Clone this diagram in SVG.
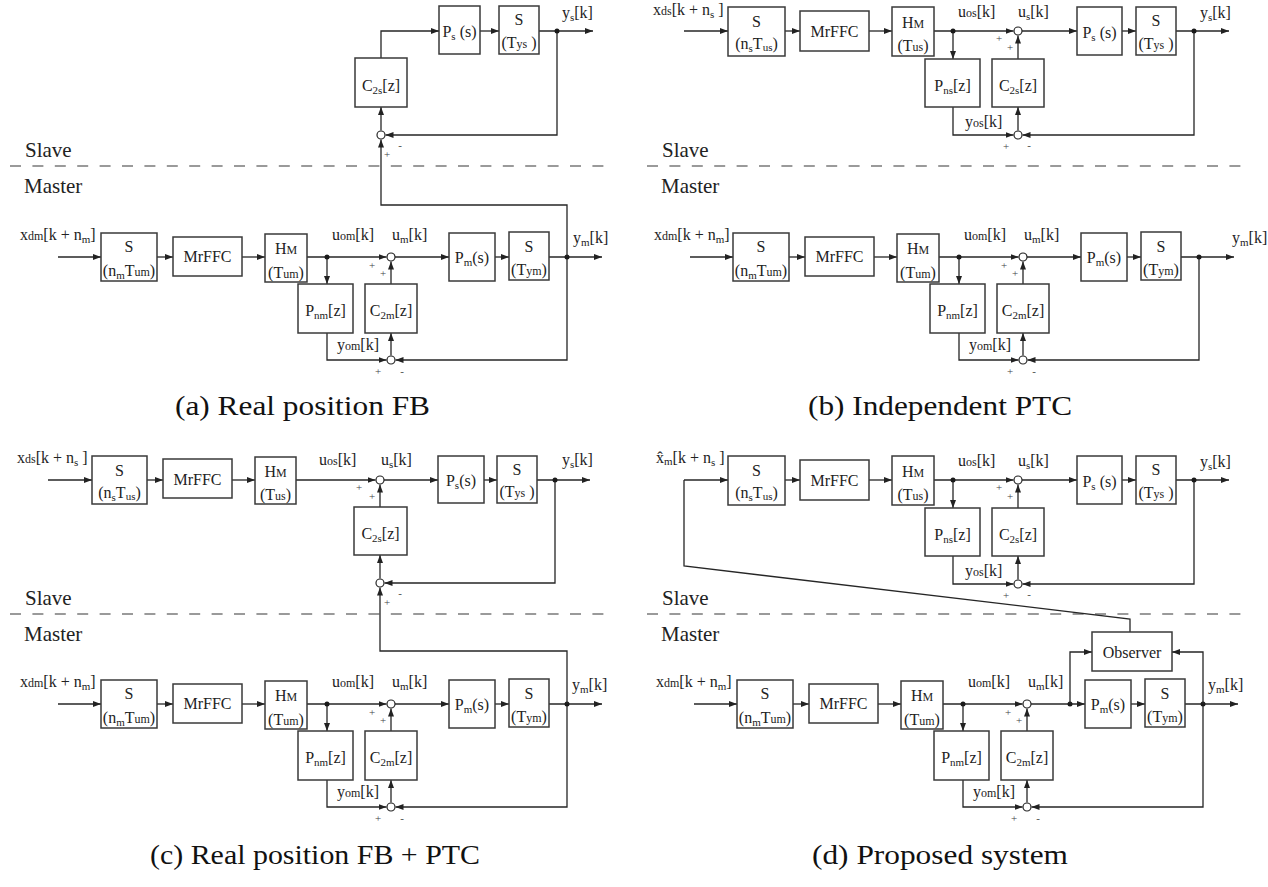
<svg xmlns="http://www.w3.org/2000/svg" width="1268" height="887" viewBox="0 0 1268 887">
<style>
  .box { fill: #fff; stroke: #3a3a3a; stroke-width: 1.5; }
  .w { fill: none; stroke: #262626; stroke-width: 1.3; }
  .a { marker-end: url(#ah); }
  .sum { fill: #fff; stroke: #262626; stroke-width: 1.2; }
  .dot { fill: #1a1a1a; }
  .dash { stroke: #7a7a7a; stroke-width: 1.5; stroke-dasharray: 11 11.4; }
  text { font-family: "Liberation Serif", "DejaVu Serif", serif; fill: #222; }
  .t { font-size: 16px; }
  .c { text-anchor: middle; }
  .sm { font-size: 12px; }
  .sb { font-size: 11px; }
  .pm { font-size: 11px; fill: #444; text-anchor: middle; }
  .zone { font-size: 21px; }
  .cap { font-size: 27px; fill: #111; }
</style>
<defs>
  <marker id="ah" viewBox="0 0 8 6" refX="8" refY="3" markerWidth="8" markerHeight="6" markerUnits="userSpaceOnUse" orient="auto">
    <path d="M0,0 L8,3 L0,6 Z" fill="#222"/>
  </marker>
</defs>
<rect width="1268" height="887" fill="#fff"/>

<!-- ===== zone separators ===== -->
<g id="separators">
  <line class="dash" x1="10" y1="166" x2="607" y2="166"/>
  <line class="dash" x1="647" y1="166" x2="1243" y2="166"/>
  <line class="dash" x1="10" y1="614" x2="607" y2="614"/>
  <line class="dash" x1="647" y1="614" x2="1243" y2="614"/>
  <text class="zone" x="25" y="157">Slave</text>
  <text class="zone" x="24" y="193">Master</text>
  <text class="zone" x="662" y="157">Slave</text>
  <text class="zone" x="661" y="193">Master</text>
  <text class="zone" x="25" y="605">Slave</text>
  <text class="zone" x="24" y="641">Master</text>
  <text class="zone" x="662" y="605">Slave</text>
  <text class="zone" x="661" y="641">Master</text>
</g>

<!-- ===== captions ===== -->
<g id="captions">
  <text class="cap" x="175" y="415" textLength="255" lengthAdjust="spacingAndGlyphs">(a) Real position FB</text>
  <text class="cap" x="808" y="415" textLength="264" lengthAdjust="spacingAndGlyphs">(b) Independent PTC</text>
  <text class="cap" x="150" y="864" textLength="330" lengthAdjust="spacingAndGlyphs">(c) Real position FB + PTC</text>
  <text class="cap" x="812" y="864" textLength="256" lengthAdjust="spacingAndGlyphs">(d) Proposed system</text>
</g>

<!-- ===== master loop, panel (a) ===== -->
<g id="masterA">
  <g id="masterA-wires">
    <path class="w a" d="M58 257H101"/>
    <path class="w a" d="M157 257H173"/>
    <path class="w a" d="M242 257H265"/>
    <path class="w a" d="M307 257H386.5"/>
    <path class="w a" d="M327 257V284"/>
    <path class="w a" d="M391 284V261.5"/>
    <path class="w a" d="M395 257H449"/>
    <path class="w a" d="M495 257H509"/>
    <path class="w a" d="M549 257H602"/>
    <path class="w a" d="M567 257V360H395.5"/>
    <path class="w a" d="M327 333V360H386.5"/>
    <path class="w a" d="M391 355.5V333"/>
    <circle class="dot" cx="327" cy="257" r="2.5"/>
    <circle class="dot" cx="567" cy="257" r="2.5"/>
  </g>
  <g id="masterA-labels">
    <text class="t" x="20" y="240">x<tspan class="sm">dm</tspan>[k + n<tspan class="sb" dy="3">m</tspan><tspan dy="-3">]</tspan></text>
    <text class="t" x="332" y="240">u<tspan class="sm">om</tspan>[k]</text>
    <text class="t" x="392" y="240">u<tspan class="sb" dy="3">m</tspan><tspan dy="-3">[k]</tspan></text>
    <text class="t" x="337" y="350">y<tspan class="sm">om</tspan>[k]</text>
    <text class="t" x="573" y="243">y<tspan class="sb" dy="3">m</tspan><tspan dy="-3">[k]</tspan></text>
  </g>
  <g id="masterA-S"><rect class="box" x="101" y="233" width="56" height="48"/><text class="t c" x="129" y="252">S</text><text class="t c" x="129" y="276">(n<tspan class="sb" dy="3">m</tspan><tspan dy="-3">T</tspan><tspan class="sm">um</tspan>)</text></g>
  <g id="masterA-MrFFC"><rect class="box" x="173" y="237" width="69" height="39"/><text class="t c" x="207.5" y="262">MrFFC</text></g>
  <g id="masterA-HM"><rect class="box" x="265" y="234" width="42" height="48"/><text class="t c" x="286" y="254">H<tspan class="sm">M</tspan></text><text class="t c" x="286" y="278">(T<tspan class="sm">um</tspan>)</text></g>
  <g id="masterA-Pn"><rect class="box" x="298" y="284" width="55" height="49"/><text class="t c" x="325.5" y="316">P<tspan class="sb" dy="3">nm</tspan><tspan dy="-3">[z]</tspan></text></g>
  <g id="masterA-C2"><rect class="box" x="365" y="284" width="52" height="49"/><text class="t c" x="391" y="316">C<tspan class="sb" dy="3">2m</tspan><tspan dy="-3">[z]</tspan></text></g>
  <g id="masterA-P"><rect class="box" x="449" y="233" width="46" height="48"/><text class="t c" x="472" y="263">P<tspan class="sb" dy="3">m</tspan><tspan dy="-3">(s)</tspan></text></g>
  <g id="masterA-Sy"><rect class="box" x="509" y="232" width="40" height="48"/><text class="t c" x="529" y="252">S</text><text class="t c" x="529" y="275">(T<tspan class="sm">ym</tspan>)</text></g>
  <g id="masterA-sumU"><circle class="sum" cx="391" cy="257" r="4"/><text class="pm" x="372" y="269">+</text><text class="pm" x="383" y="277">+</text></g>
  <g id="masterA-sumY"><circle class="sum" cx="391" cy="360" r="4"/><text class="pm" x="378" y="375">+</text><text class="pm" x="402" y="375">-</text></g>
</g>

<!-- ===== master loop, panel (b) ===== -->
<g id="masterB" transform="translate(632,0)">
  <g id="masterB-wires">
    <path class="w a" d="M58 257H101"/>
    <path class="w a" d="M157 257H173"/>
    <path class="w a" d="M242 257H265"/>
    <path class="w a" d="M307 257H386.5"/>
    <path class="w a" d="M327 257V284"/>
    <path class="w a" d="M391 284V261.5"/>
    <path class="w a" d="M395 257H449"/>
    <path class="w a" d="M495 257H509"/>
    <path class="w a" d="M549 257H602"/>
    <path class="w a" d="M567 257V360H395.5"/>
    <path class="w a" d="M327 333V360H386.5"/>
    <path class="w a" d="M391 355.5V333"/>
    <circle class="dot" cx="327" cy="257" r="2.5"/>
    <circle class="dot" cx="567" cy="257" r="2.5"/>
  </g>
  <g id="masterB-labels">
    <text class="t" x="22" y="240">x<tspan class="sm">dm</tspan>[k + n<tspan class="sb" dy="3">m</tspan><tspan dy="-3">]</tspan></text>
    <text class="t" x="332" y="240">u<tspan class="sm">om</tspan>[k]</text>
    <text class="t" x="392" y="240">u<tspan class="sb" dy="3">m</tspan><tspan dy="-3">[k]</tspan></text>
    <text class="t" x="337" y="350">y<tspan class="sm">om</tspan>[k]</text>
    <text class="t" x="600" y="243">y<tspan class="sb" dy="3">m</tspan><tspan dy="-3">[k]</tspan></text>
  </g>
  <g id="masterB-S"><rect class="box" x="101" y="233" width="56" height="48"/><text class="t c" x="129" y="252">S</text><text class="t c" x="129" y="276">(n<tspan class="sb" dy="3">m</tspan><tspan dy="-3">T</tspan><tspan class="sm">um</tspan>)</text></g>
  <g id="masterB-MrFFC"><rect class="box" x="173" y="237" width="69" height="39"/><text class="t c" x="207.5" y="262">MrFFC</text></g>
  <g id="masterB-HM"><rect class="box" x="265" y="234" width="42" height="48"/><text class="t c" x="286" y="254">H<tspan class="sm">M</tspan></text><text class="t c" x="286" y="278">(T<tspan class="sm">um</tspan>)</text></g>
  <g id="masterB-Pn"><rect class="box" x="298" y="284" width="55" height="49"/><text class="t c" x="325.5" y="316">P<tspan class="sb" dy="3">nm</tspan><tspan dy="-3">[z]</tspan></text></g>
  <g id="masterB-C2"><rect class="box" x="365" y="284" width="52" height="49"/><text class="t c" x="391" y="316">C<tspan class="sb" dy="3">2m</tspan><tspan dy="-3">[z]</tspan></text></g>
  <g id="masterB-P"><rect class="box" x="449" y="233" width="46" height="48"/><text class="t c" x="472" y="263">P<tspan class="sb" dy="3">m</tspan><tspan dy="-3">(s)</tspan></text></g>
  <g id="masterB-Sy"><rect class="box" x="509" y="232" width="40" height="48"/><text class="t c" x="529" y="252">S</text><text class="t c" x="529" y="275">(T<tspan class="sm">ym</tspan>)</text></g>
  <g id="masterB-sumU"><circle class="sum" cx="391" cy="257" r="4"/><text class="pm" x="372" y="269">+</text><text class="pm" x="383" y="277">+</text></g>
  <g id="masterB-sumY"><circle class="sum" cx="391" cy="360" r="4"/><text class="pm" x="378" y="375">+</text><text class="pm" x="402" y="375">-</text></g>
</g>

<!-- ===== master loop, panel (c) ===== -->
<g id="masterC" transform="translate(0,447)">
  <g id="masterC-wires">
    <path class="w a" d="M58 257H101"/>
    <path class="w a" d="M157 257H173"/>
    <path class="w a" d="M242 257H265"/>
    <path class="w a" d="M307 257H386.5"/>
    <path class="w a" d="M327 257V284"/>
    <path class="w a" d="M391 284V261.5"/>
    <path class="w a" d="M395 257H449"/>
    <path class="w a" d="M495 257H509"/>
    <path class="w a" d="M549 257H602"/>
    <path class="w a" d="M567 257V360H395.5"/>
    <path class="w a" d="M327 333V360H386.5"/>
    <path class="w a" d="M391 355.5V333"/>
    <circle class="dot" cx="327" cy="257" r="2.5"/>
    <circle class="dot" cx="567" cy="257" r="2.5"/>
  </g>
  <g id="masterC-labels">
    <text class="t" x="20" y="240">x<tspan class="sm">dm</tspan>[k + n<tspan class="sb" dy="3">m</tspan><tspan dy="-3">]</tspan></text>
    <text class="t" x="332" y="240">u<tspan class="sm">om</tspan>[k]</text>
    <text class="t" x="392" y="240">u<tspan class="sb" dy="3">m</tspan><tspan dy="-3">[k]</tspan></text>
    <text class="t" x="337" y="350">y<tspan class="sm">om</tspan>[k]</text>
    <text class="t" x="572" y="243">y<tspan class="sb" dy="3">m</tspan><tspan dy="-3">[k]</tspan></text>
  </g>
  <g id="masterC-S"><rect class="box" x="101" y="233" width="56" height="48"/><text class="t c" x="129" y="252">S</text><text class="t c" x="129" y="276">(n<tspan class="sb" dy="3">m</tspan><tspan dy="-3">T</tspan><tspan class="sm">um</tspan>)</text></g>
  <g id="masterC-MrFFC"><rect class="box" x="173" y="237" width="69" height="39"/><text class="t c" x="207.5" y="262">MrFFC</text></g>
  <g id="masterC-HM"><rect class="box" x="265" y="234" width="42" height="48"/><text class="t c" x="286" y="254">H<tspan class="sm">M</tspan></text><text class="t c" x="286" y="278">(T<tspan class="sm">um</tspan>)</text></g>
  <g id="masterC-Pn"><rect class="box" x="298" y="284" width="55" height="49"/><text class="t c" x="325.5" y="316">P<tspan class="sb" dy="3">nm</tspan><tspan dy="-3">[z]</tspan></text></g>
  <g id="masterC-C2"><rect class="box" x="365" y="284" width="52" height="49"/><text class="t c" x="391" y="316">C<tspan class="sb" dy="3">2m</tspan><tspan dy="-3">[z]</tspan></text></g>
  <g id="masterC-P"><rect class="box" x="449" y="233" width="46" height="48"/><text class="t c" x="472" y="263">P<tspan class="sb" dy="3">m</tspan><tspan dy="-3">(s)</tspan></text></g>
  <g id="masterC-Sy"><rect class="box" x="509" y="232" width="40" height="48"/><text class="t c" x="529" y="252">S</text><text class="t c" x="529" y="275">(T<tspan class="sm">ym</tspan>)</text></g>
  <g id="masterC-sumU"><circle class="sum" cx="391" cy="257" r="4"/><text class="pm" x="372" y="269">+</text><text class="pm" x="383" y="277">+</text></g>
  <g id="masterC-sumY"><circle class="sum" cx="391" cy="360" r="4"/><text class="pm" x="378" y="375">+</text><text class="pm" x="402" y="375">-</text></g>
</g>

<!-- ===== master loop, panel (d) ===== -->
<g id="masterD" transform="translate(636,447)">
  <g id="masterD-wires">
    <path class="w a" d="M58 257H101"/>
    <path class="w a" d="M157 257H173"/>
    <path class="w a" d="M242 257H265"/>
    <path class="w a" d="M307 257H386.5"/>
    <path class="w a" d="M327 257V284"/>
    <path class="w a" d="M391 284V261.5"/>
    <path class="w a" d="M395 257H449"/>
    <path class="w a" d="M495 257H509"/>
    <path class="w a" d="M549 257H602"/>
    <path class="w a" d="M567 257V360H395.5"/>
    <path class="w a" d="M327 333V360H386.5"/>
    <path class="w a" d="M391 355.5V333"/>
    <circle class="dot" cx="327" cy="257" r="2.5"/>
    <circle class="dot" cx="567" cy="257" r="2.5"/>
    <circle class="dot" cx="434" cy="257" r="2.5"/>
  </g>
  <g id="masterD-labels">
    <text class="t" x="20" y="240">x<tspan class="sm">dm</tspan>[k + n<tspan class="sb" dy="3">m</tspan><tspan dy="-3">]</tspan></text>
    <text class="t" x="332" y="240">u<tspan class="sm">om</tspan>[k]</text>
    <text class="t" x="392" y="240">u<tspan class="sb" dy="3">m</tspan><tspan dy="-3">[k]</tspan></text>
    <text class="t" x="337" y="350">y<tspan class="sm">om</tspan>[k]</text>
    <text class="t" x="572" y="243">y<tspan class="sb" dy="3">m</tspan><tspan dy="-3">[k]</tspan></text>
  </g>
  <g id="masterD-S"><rect class="box" x="101" y="233" width="56" height="48"/><text class="t c" x="129" y="252">S</text><text class="t c" x="129" y="276">(n<tspan class="sb" dy="3">m</tspan><tspan dy="-3">T</tspan><tspan class="sm">um</tspan>)</text></g>
  <g id="masterD-MrFFC"><rect class="box" x="173" y="237" width="69" height="39"/><text class="t c" x="207.5" y="262">MrFFC</text></g>
  <g id="masterD-HM"><rect class="box" x="265" y="234" width="42" height="48"/><text class="t c" x="286" y="254">H<tspan class="sm">M</tspan></text><text class="t c" x="286" y="278">(T<tspan class="sm">um</tspan>)</text></g>
  <g id="masterD-Pn"><rect class="box" x="298" y="284" width="55" height="49"/><text class="t c" x="325.5" y="316">P<tspan class="sb" dy="3">nm</tspan><tspan dy="-3">[z]</tspan></text></g>
  <g id="masterD-C2"><rect class="box" x="365" y="284" width="52" height="49"/><text class="t c" x="391" y="316">C<tspan class="sb" dy="3">2m</tspan><tspan dy="-3">[z]</tspan></text></g>
  <g id="masterD-P"><rect class="box" x="449" y="233" width="46" height="48"/><text class="t c" x="472" y="263">P<tspan class="sb" dy="3">m</tspan><tspan dy="-3">(s)</tspan></text></g>
  <g id="masterD-Sy"><rect class="box" x="509" y="232" width="40" height="48"/><text class="t c" x="529" y="252">S</text><text class="t c" x="529" y="275">(T<tspan class="sm">ym</tspan>)</text></g>
  <g id="masterD-sumU"><circle class="sum" cx="391" cy="257" r="4"/><text class="pm" x="372" y="269">+</text><text class="pm" x="383" y="277">+</text></g>
  <g id="masterD-sumY"><circle class="sum" cx="391" cy="360" r="4"/><text class="pm" x="378" y="375">+</text><text class="pm" x="402" y="375">-</text></g>
</g>

<!-- ===== slave loop, panel (a): position feedback only ===== -->
<g id="slaveA">
  <g id="slaveA-wires">
    <path class="w a" d="M381 58V31H439"/>
    <path class="w a" d="M480 31H499"/>
    <path class="w a" d="M539 31H593"/>
    <path class="w a" d="M557 31V135H385.5"/>
    <path class="w a" d="M381 130.5V107"/>
    <path class="w a" d="M567 257V205H381V139.5"/>
    <circle class="dot" cx="557" cy="31" r="2.5"/>
  </g>
  <text class="t" x="562" y="18">y<tspan class="sb" dy="3">s</tspan><tspan dy="-3">[k]</tspan></text>
  <g id="slaveA-C2"><rect class="box" x="355" y="58" width="52" height="49"/><text class="t c" x="381" y="91">C<tspan class="sb" dy="3">2s</tspan><tspan dy="-3">[z]</tspan></text></g>
  <g id="slaveA-P"><rect class="box" x="439" y="6" width="41" height="48"/><text class="t c" x="459.5" y="37">P<tspan class="sb" dy="3">s</tspan><tspan dy="-3"> (s)</tspan></text></g>
  <g id="slaveA-Sy"><rect class="box" x="499" y="6" width="40" height="48"/><text class="t c" x="519" y="25">S</text><text class="t c" x="519" y="48">(T<tspan class="sm">ys</tspan> )</text></g>
  <g id="slaveA-sum"><circle class="sum" cx="381" cy="135" r="4"/><text class="pm" x="400" y="149">-</text><text class="pm" x="387" y="158">+</text></g>
</g>

<!-- ===== slave loop, panel (b) ===== -->
<g id="slaveB">
  <g id="slaveB-wires">
    <path class="w a" d="M684 31H728"/>
    <path class="w a" d="M785 31H800"/>
    <path class="w a" d="M869 31H892"/>
    <path class="w a" d="M934 31H1013.5"/>
    <path class="w a" d="M953 31V59"/>
    <path class="w a" d="M1018 59V35.5"/>
    <path class="w a" d="M1022 31H1077"/>
    <path class="w a" d="M1122 31H1136"/>
    <path class="w a" d="M1176 31H1229"/>
    <path class="w a" d="M1194 31V135H1022.5"/>
    <path class="w a" d="M953 107V135H1013.5"/>
    <path class="w a" d="M1018 130.5V107"/>
    <circle class="dot" cx="953" cy="31" r="2.5"/>
    <circle class="dot" cx="1194" cy="31" r="2.5"/>
  </g>
  <g id="slaveB-labels">
    <text class="t" x="653" y="15">x<tspan class="sm">ds</tspan>[k + n<tspan class="sb" dy="3">s</tspan><tspan dy="-3"> ]</tspan></text>
    <text class="t" x="958" y="17">u<tspan class="sm">os</tspan>[k]</text>
    <text class="t" x="1018" y="17">u<tspan class="sb" dy="3">s</tspan><tspan dy="-3">[k]</tspan></text>
    <text class="t" x="1200" y="18">y<tspan class="sb" dy="3">s</tspan><tspan dy="-3">[k]</tspan></text>
    <text class="t" x="965" y="127">y<tspan class="sm">os</tspan>[k]</text>
  </g>
  <g id="slaveB-S"><rect class="box" x="728" y="7" width="57" height="49"/><text class="t c" x="756.5" y="27">S</text><text class="t c" x="756.5" y="49">(n<tspan class="sb" dy="3">s</tspan><tspan dy="-3">T</tspan><tspan class="sb" dy="2">us</tspan><tspan dy="-2">)</tspan></text></g>
  <g id="slaveB-MrFFC"><rect class="box" x="800" y="11" width="69" height="40"/><text class="t c" x="834.5" y="37">MrFFC</text></g>
  <g id="slaveB-HM"><rect class="box" x="892" y="7" width="42" height="49"/><text class="t c" x="913" y="28">H<tspan class="sm">M</tspan></text><text class="t c" x="913" y="51">(T<tspan class="sm">us</tspan>)</text></g>
  <g id="slaveB-Pn"><rect class="box" x="925" y="59" width="55" height="48"/><text class="t c" x="952.5" y="91">P<tspan class="sb" dy="3">ns</tspan><tspan dy="-3">[z]</tspan></text></g>
  <g id="slaveB-C2"><rect class="box" x="992" y="59" width="52" height="48"/><text class="t c" x="1018" y="91">C<tspan class="sb" dy="3">2s</tspan><tspan dy="-3">[z]</tspan></text></g>
  <g id="slaveB-P"><rect class="box" x="1077" y="7" width="45" height="48"/><text class="t c" x="1099.5" y="38">P<tspan class="sb" dy="3">s</tspan><tspan dy="-3"> (s)</tspan></text></g>
  <g id="slaveB-Sy"><rect class="box" x="1136" y="7" width="40" height="48"/><text class="t c" x="1156" y="26">S</text><text class="t c" x="1156" y="49">(T<tspan class="sm">ys</tspan> )</text></g>
  <g id="slaveB-sumU"><circle class="sum" cx="1018" cy="31" r="4"/><text class="pm" x="999" y="42">+</text><text class="pm" x="1010" y="51">+</text></g>
  <g id="slaveB-sumY"><circle class="sum" cx="1018" cy="135" r="4"/><text class="pm" x="1006" y="150">+</text><text class="pm" x="1029" y="149">-</text></g>
</g>

<!-- ===== slave loop, panel (c): position feedback + PTC ===== -->
<g id="slaveC">
  <g id="slaveC-wires">
    <path class="w a" d="M48 480H92"/>
    <path class="w a" d="M147 480H163"/>
    <path class="w a" d="M232 480H255"/>
    <path class="w a" d="M296 480H375.5"/>
    <path class="w a" d="M380 507V484.5"/>
    <path class="w a" d="M384 480H438"/>
    <path class="w a" d="M484 480H497"/>
    <path class="w a" d="M537 480H590"/>
    <path class="w a" d="M555 480V583H384.5"/>
    <path class="w a" d="M380 578.5V555"/>
    <path class="w a" d="M567 704V651H380V587.5"/>
    <circle class="dot" cx="555" cy="480" r="2.5"/>
  </g>
  <g id="slaveC-labels">
    <text class="t" x="17" y="463">x<tspan class="sm">ds</tspan>[k + n<tspan class="sb" dy="3">s</tspan><tspan dy="-3"> ]</tspan></text>
    <text class="t" x="319" y="465">u<tspan class="sm">os</tspan>[k]</text>
    <text class="t" x="381" y="465">u<tspan class="sb" dy="3">s</tspan><tspan dy="-3">[k]</tspan></text>
    <text class="t" x="562" y="465">y<tspan class="sb" dy="3">s</tspan><tspan dy="-3">[k]</tspan></text>
  </g>
  <g id="slaveC-S"><rect class="box" x="92" y="456" width="55" height="48"/><text class="t c" x="119.5" y="476">S</text><text class="t c" x="119.5" y="498">(n<tspan class="sb" dy="3">s</tspan><tspan dy="-3">T</tspan><tspan class="sb" dy="2">us</tspan><tspan dy="-2">)</tspan></text></g>
  <g id="slaveC-MrFFC"><rect class="box" x="163" y="459" width="69" height="39"/><text class="t c" x="197.5" y="485">MrFFC</text></g>
  <g id="slaveC-HM"><rect class="box" x="255" y="457" width="41" height="47"/><text class="t c" x="275.5" y="477">H<tspan class="sm">M</tspan></text><text class="t c" x="275.5" y="500">(T<tspan class="sm">us</tspan>)</text></g>
  <g id="slaveC-C2"><rect class="box" x="354" y="507" width="53" height="48"/><text class="t c" x="380.5" y="539">C<tspan class="sb" dy="3">2s</tspan><tspan dy="-3">[z]</tspan></text></g>
  <g id="slaveC-P"><rect class="box" x="438" y="456" width="46" height="47"/><text class="t c" x="461" y="486">P<tspan class="sb" dy="3">s</tspan><tspan dy="-3">(s)</tspan></text></g>
  <g id="slaveC-Sy"><rect class="box" x="497" y="456" width="40" height="47"/><text class="t c" x="517" y="475">S</text><text class="t c" x="517" y="497">(T<tspan class="sm">ys</tspan> )</text></g>
  <g id="slaveC-sumU"><circle class="sum" cx="380" cy="480" r="4"/><text class="pm" x="359" y="491">+</text><text class="pm" x="372" y="500">+</text></g>
  <g id="slaveC-sumY"><circle class="sum" cx="380" cy="583" r="4"/><text class="pm" x="400" y="597">-</text><text class="pm" x="387" y="606">+</text></g>
</g>

<!-- ===== slave loop, panel (d): reference from observer ===== -->
<g id="slaveD" transform="translate(0,449)">
  <g id="slaveD-wires">
    <path class="w a" d="M684 31H728"/>
    <path class="w a" d="M785 31H800"/>
    <path class="w a" d="M869 31H892"/>
    <path class="w a" d="M934 31H1013.5"/>
    <path class="w a" d="M953 31V59"/>
    <path class="w a" d="M1018 59V35.5"/>
    <path class="w a" d="M1022 31H1077"/>
    <path class="w a" d="M1122 31H1136"/>
    <path class="w a" d="M1176 31H1229"/>
    <path class="w a" d="M1194 31V135H1022.5"/>
    <path class="w a" d="M953 107V135H1013.5"/>
    <path class="w a" d="M1018 130.5V107"/>
    <circle class="dot" cx="953" cy="31" r="2.5"/>
    <circle class="dot" cx="1194" cy="31" r="2.5"/>
  </g>
  <g id="slaveD-labels">
    <text class="t" x="656" y="14">x&#770;<tspan class="sb" dy="2">m</tspan><tspan dy="-2">[k + n</tspan><tspan class="sb" dy="3">s</tspan><tspan dy="-3"> ]</tspan></text>
    <text class="t" x="958" y="17">u<tspan class="sm">os</tspan>[k]</text>
    <text class="t" x="1018" y="17">u<tspan class="sb" dy="3">s</tspan><tspan dy="-3">[k]</tspan></text>
    <text class="t" x="1200" y="18">y<tspan class="sb" dy="3">s</tspan><tspan dy="-3">[k]</tspan></text>
    <text class="t" x="965" y="127">y<tspan class="sm">os</tspan>[k]</text>
  </g>
  <g id="slaveD-S"><rect class="box" x="728" y="7" width="57" height="49"/><text class="t c" x="756.5" y="27">S</text><text class="t c" x="756.5" y="49">(n<tspan class="sb" dy="3">s</tspan><tspan dy="-3">T</tspan><tspan class="sb" dy="2">us</tspan><tspan dy="-2">)</tspan></text></g>
  <g id="slaveD-MrFFC"><rect class="box" x="800" y="11" width="69" height="40"/><text class="t c" x="834.5" y="37">MrFFC</text></g>
  <g id="slaveD-HM"><rect class="box" x="892" y="7" width="42" height="49"/><text class="t c" x="913" y="28">H<tspan class="sm">M</tspan></text><text class="t c" x="913" y="51">(T<tspan class="sm">us</tspan>)</text></g>
  <g id="slaveD-Pn"><rect class="box" x="925" y="59" width="55" height="48"/><text class="t c" x="952.5" y="91">P<tspan class="sb" dy="3">ns</tspan><tspan dy="-3">[z]</tspan></text></g>
  <g id="slaveD-C2"><rect class="box" x="992" y="59" width="52" height="48"/><text class="t c" x="1018" y="91">C<tspan class="sb" dy="3">2s</tspan><tspan dy="-3">[z]</tspan></text></g>
  <g id="slaveD-P"><rect class="box" x="1077" y="7" width="45" height="48"/><text class="t c" x="1099.5" y="38">P<tspan class="sb" dy="3">s</tspan><tspan dy="-3"> (s)</tspan></text></g>
  <g id="slaveD-Sy"><rect class="box" x="1136" y="7" width="40" height="48"/><text class="t c" x="1156" y="26">S</text><text class="t c" x="1156" y="49">(T<tspan class="sm">ys</tspan> )</text></g>
  <g id="slaveD-sumU"><circle class="sum" cx="1018" cy="31" r="4"/><text class="pm" x="999" y="42">+</text><text class="pm" x="1010" y="51">+</text></g>
  <g id="slaveD-sumY"><circle class="sum" cx="1018" cy="135" r="4"/><text class="pm" x="1006" y="150">+</text><text class="pm" x="1029" y="149">-</text></g>
</g>

<!-- ===== observer, panel (d) ===== -->
<g id="observer-wires">
  <path class="w a" d="M1070 704V652H1092"/>
  <path class="w a" d="M1203 704V652H1172"/>
  <path class="w" d="M1130 632V619L684 566V480"/>
</g>
<g id="observer">
  <rect class="box" x="1092" y="632" width="80" height="39"/>
  <text class="t c" x="1132" y="658">Observer</text>
</g>
</svg>
